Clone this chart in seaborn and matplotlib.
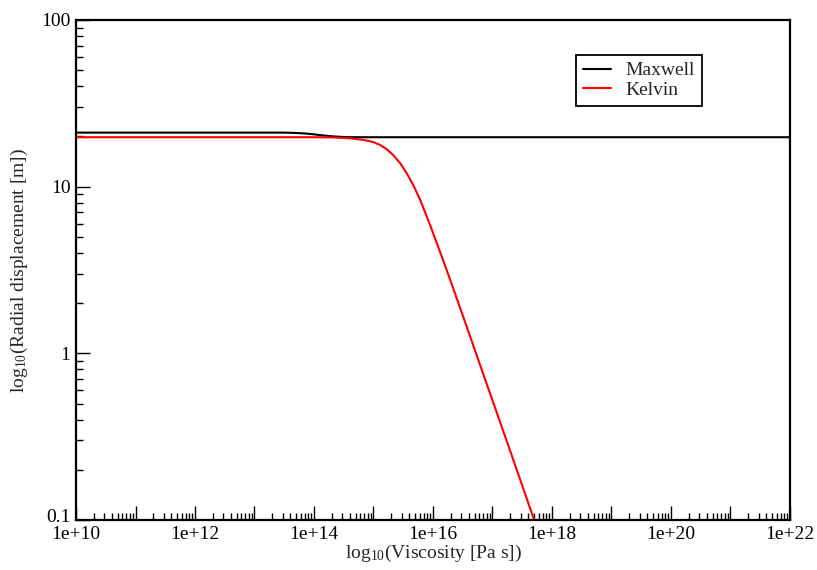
import numpy as np
import pandas as pd
import matplotlib
matplotlib.use("Agg")
import matplotlib.pyplot as plt
import matplotlib.transforms as mtransforms
from matplotlib.ticker import LogLocator, FuncFormatter, FixedLocator, NullFormatter
import seaborn as sns

# Viscosity sample points (log10 of Pa s) and radial displacement [m]
maxwell_log_visc = [10.0, 12.0, 13.0, 13.5, 13.7, 13.85, 14.0, 14.15, 14.3, 14.45,
                    14.6, 14.8, 18.0, 22.0]
maxwell_disp = [21.1, 21.1, 21.1, 21.1, 21.0, 20.85, 20.6, 20.3, 20.05, 19.9,
                19.82, 19.8, 19.8, 19.8]

kelvin_log_visc = [10.0, 12.0, 13.0, 14.0, 14.3, 14.6, 14.83, 15.0, 15.11, 15.22,
                   15.33, 15.45, 15.56, 15.67, 15.78, 15.95, 16.12, 16.3, 16.5,
                   16.87, 17.3, 17.68, 18.0]
kelvin_disp = [19.8, 19.8, 19.8, 19.8, 19.75, 19.5, 19.1, 18.5, 17.8, 16.8,
               15.5, 13.8, 12.0, 10.2, 8.4, 5.9, 4.05, 2.69, 1.69,
               0.708, 0.258, 0.105, 0.05]

series_names = ["Maxwell", "Kelvin"]
series_colors = ["black", "red"]

x_tick_exponents = list(range(10, 23))
y_tick_values = [0.1, 1, 10, 100]
y_tick_labels = ["0.1", "1", "10", "100"]

sns.set_style("ticks")
plt.rcParams["font.family"] = ["Liberation Serif", "DejaVu Serif"]
plt.rcParams["mathtext.fontset"] = "custom"
plt.rcParams["mathtext.rm"] = "Liberation Serif"
plt.rcParams["mathtext.it"] = "Liberation Serif:italic"

df = pd.concat([
    pd.DataFrame({"visc": np.power(10.0, maxwell_log_visc), "disp": maxwell_disp,
                  "model": series_names[0]}),
    pd.DataFrame({"visc": np.power(10.0, kelvin_log_visc), "disp": kelvin_disp,
                  "model": series_names[1]}),
], ignore_index=True)

fig = plt.figure(figsize=(8.17, 5.70), dpi=100)
ax = fig.add_axes([76 / 817, 1 - 520 / 570, 714 / 817, 500 / 570])

sns.lineplot(data=df, x="visc", y="disp", hue="model", hue_order=series_names,
             palette=series_colors, estimator=None, sort=False, linewidth=1.5, ax=ax)

ax.set_xscale("log")
ax.set_yscale("log")
ax.set_xlim(1e10, 1e22)
ax.set_ylim(0.1, 100)

# x axis: a major tick every decade, labels every second decade
ax.xaxis.set_major_locator(FixedLocator([10.0 ** e for e in x_tick_exponents]))
ax.xaxis.set_major_formatter(FuncFormatter(
    lambda v, pos: "1e+%d" % round(np.log10(v)) if round(np.log10(v)) % 2 == 0 else ""))
ax.xaxis.set_minor_locator(LogLocator(base=10, subs=np.arange(2, 10), numticks=100))
ax.xaxis.set_minor_formatter(NullFormatter())

ax.yaxis.set_major_locator(FixedLocator(y_tick_values))
ax.set_yticklabels(y_tick_labels)
ax.yaxis.set_minor_locator(LogLocator(base=10, subs=np.arange(2, 10), numticks=100))
ax.yaxis.set_minor_formatter(NullFormatter())

ax.tick_params(which="both", direction="in", top=False, right=False,
               labelsize=14, color="black", labelcolor="black")
ax.tick_params(which="major", length=10, width=1.0)
ax.tick_params(axis="x", which="major", pad=4)
ax.tick_params(axis="y", which="major", pad=4)
ax.tick_params(which="minor", length=5, width=1.0)

# lift the bottom y label a little so it sits above the first x label
fig.canvas.draw()
bottom_label = ax.get_yticklabels()[0]
bottom_label.set_transform(bottom_label.get_transform() +
                           mtransforms.ScaledTranslation(0, 4 / 100, fig.dpi_scale_trans))

for side in ["left", "right", "top", "bottom"]:
    ax.spines[side].set_visible(True)
    ax.spines[side].set_linewidth(1.6)
    ax.spines[side].set_color("black")

ax.set_xlabel(r"log$_{10}$(Viscosity [Pa s])", fontsize=14, labelpad=0)
ax.set_ylabel(r"log$_{10}$(Radial displacement [m])", fontsize=14, labelpad=8)

leg = ax.legend(loc="upper left", bbox_to_anchor=(0.70, 0.93), fontsize=14,
                frameon=True, fancybox=False, shadow=False, framealpha=1,
                edgecolor="black", handlelength=1.45, handletextpad=0.75,
                labelspacing=0.1, borderpad=0.35, borderaxespad=0)
leg.get_frame().set_linewidth(1.3)
for line in leg.get_lines():
    line.set_linewidth(1.5)

fig.savefig("out.png", dpi=100)
